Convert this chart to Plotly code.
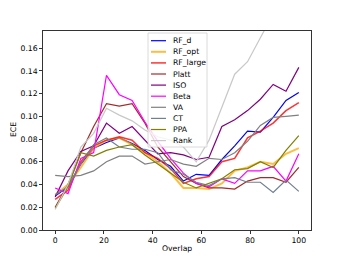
import plotly.graph_objects as go

overlap = [0, 5.26, 10.53, 15.79, 21.05, 26.32, 31.58, 36.84, 42.11, 47.37,
           52.63, 57.89, 63.16, 68.42, 73.68, 78.95, 84.21, 89.47, 94.74, 100]

rf_d = [0.030, 0.038, 0.058, 0.072, 0.077, 0.081, 0.076, 0.070, 0.062, 0.056,
        0.043, 0.049, 0.048, 0.062, 0.074, 0.087, 0.086, 0.099, 0.114, 0.121]
rf_opt = [0.031, 0.040, 0.055, 0.072, 0.079, 0.081, 0.075, 0.068, 0.060, 0.050,
          0.037, 0.037, 0.036, 0.041, 0.052, 0.055, 0.060, 0.058, 0.067, 0.072]
rf_large = [0.027, 0.035, 0.060, 0.074, 0.079, 0.082, 0.079, 0.068, 0.063, 0.054,
            0.041, 0.045, 0.047, 0.060, 0.063, 0.081, 0.087, 0.094, 0.105, 0.112]
platt = [0.020, 0.040, 0.068, 0.091, 0.111, 0.109, 0.111, 0.094, 0.073, 0.060,
         0.047, 0.041, 0.037, 0.037, 0.036, 0.043, 0.046, 0.046, 0.042, 0.055]
iso = [0.029, 0.052, 0.069, 0.074, 0.094, 0.085, 0.091, 0.079, 0.067, 0.068,
       0.066, 0.062, 0.064, 0.091, 0.097, 0.105, 0.115, 0.128, 0.122, 0.143]
beta = [0.037, 0.032, 0.063, 0.068, 0.136, 0.119, 0.114, 0.095, 0.078, 0.063,
        0.050, 0.041, 0.038, 0.045, 0.041, 0.052, 0.052, 0.056, 0.043, 0.067]
va = [0.048, 0.047, 0.048, 0.052, 0.060, 0.065, 0.065, 0.058, 0.060, 0.062,
      0.058, 0.056, 0.063, 0.062, 0.068, 0.078, 0.092, 0.099, 0.100, 0.101]
ct = [0.031, 0.038, 0.058, 0.075, 0.081, 0.073, 0.071, 0.071, 0.068, 0.053,
      0.049, 0.042, 0.039, 0.045, 0.046, 0.042, 0.042, 0.033, 0.044, 0.034]
ppa = [0.019, 0.038, 0.068, 0.065, 0.070, 0.073, 0.075, 0.066, 0.058, 0.050,
       0.042, 0.037, 0.041, 0.045, 0.053, 0.054, 0.060, 0.055, 0.070, 0.083]
rank = [0.018, 0.040, 0.073, 0.085, 0.107, 0.101, 0.096, 0.088, 0.082, 0.079,
        0.073, 0.060, 0.079, 0.108, 0.137, 0.148, 0.170, 0.192, 0.212, 0.232]

names = ["RF_d", "RF_opt", "RF_large", "Platt", "ISO", "Beta", "VA", "CT", "PPA", "Rank"]
series = [rf_d, rf_opt, rf_large, platt, iso, beta, va, ct, ppa, rank]
colors = ["#0000ff", "rgba(255,165,0,0.75)", "rgba(255,0,0,0.8)", "#a52a2a", "#800080",
          "#ff00ff", "#808080", "#708090", "#808000", "#c8c8c8"]
widths = [1.2, 2.0, 1.5, 1.2, 1.2, 1.2, 1.2, 1.2, 1.2, 1.2]

xticks = [0, 20, 40, 60, 80, 100]
yticks = [0.00, 0.02, 0.04, 0.06, 0.08, 0.10, 0.12, 0.14, 0.16]

FONT = "DejaVu Sans"
FS = 7.7
fig = go.Figure()
for n, s, c, w in zip(names, series, colors, widths):
    fig.add_trace(go.Scatter(x=overlap, y=s, mode="lines", name=n,
                             line=dict(color=c, width=w), showlegend=False,
                             hoverinfo="skip"))

W, H = 346, 259
ml, mr, mt, mb = 43, 35, 31, 29
pw, ph = W - ml - mr, H - mt - mb

def px2x(px):
    return (px - ml) / pw

def py2y(py):
    return (H - mb - py) / ph

# manual legend (matplotlib style)
lx0, lx1, ly0, ly1 = 148, 207, 33, 147
fig.add_shape(type="rect", xref="paper", yref="paper",
              x0=px2x(lx0), x1=px2x(lx1), y0=py2y(ly1), y1=py2y(ly0),
              line=dict(color="#d0d0d0", width=0.8),
              fillcolor="rgba(255,255,255,0.8)", layer="above")
row0, step = 40.7, 11.1
for i, (n, c) in enumerate(zip(names, colors)):
    yy = py2y(row0 + i * step)
    fig.add_shape(type="line", xref="paper", yref="paper",
                  x0=px2x(151), x1=px2x(166), y0=yy, y1=yy,
                  line=dict(color=c, width=widths[i]), layer="above")
    fig.add_annotation(xref="paper", yref="paper", x=px2x(171), y=yy,
                       text=n, showarrow=False, xanchor="left", yanchor="middle",
                       font=dict(family=FONT, size=FS, color="#000000"))

# axis titles placed as annotations
fig.add_annotation(xref="paper", yref="paper", x=px2x(177), y=py2y(248),
                   text="Overlap", showarrow=False, xanchor="center", yanchor="middle",
                   font=dict(family=FONT, size=FS, color="#000000"))
fig.add_annotation(xref="paper", yref="paper", x=px2x(13), y=py2y(130),
                   text="ECE", showarrow=False, xanchor="center", yanchor="middle",
                   textangle=-90,
                   font=dict(family=FONT, size=FS, color="#000000"))

axis_common = dict(showline=True, linecolor="#000000", linewidth=0.8, mirror=True,
                   ticks="outside", ticklen=3, tickwidth=0.8, tickcolor="#000000",
                   showgrid=False, zeroline=False, automargin=False,
                   tickfont=dict(family=FONT, size=FS, color="#000000"))

fig.update_layout(
    width=W, height=H,
    margin=dict(l=ml, r=mr, t=mt, b=mb, autoexpand=False),
    paper_bgcolor="#ffffff", plot_bgcolor="#ffffff",
    font=dict(family=FONT, size=FS, color="#000000"),
    hovermode=False,
    xaxis=dict(range=[-5, 105], tickvals=xticks, **axis_common),
    yaxis=dict(range=[0, 0.175], tickvals=yticks, tickformat=".2f", **axis_common),
)

fig.write_html("out.html",
               config={"displayModeBar": False, "staticPlot": True},
               post_script="document.body.style.margin='0px';document.body.style.overflow='hidden';")
